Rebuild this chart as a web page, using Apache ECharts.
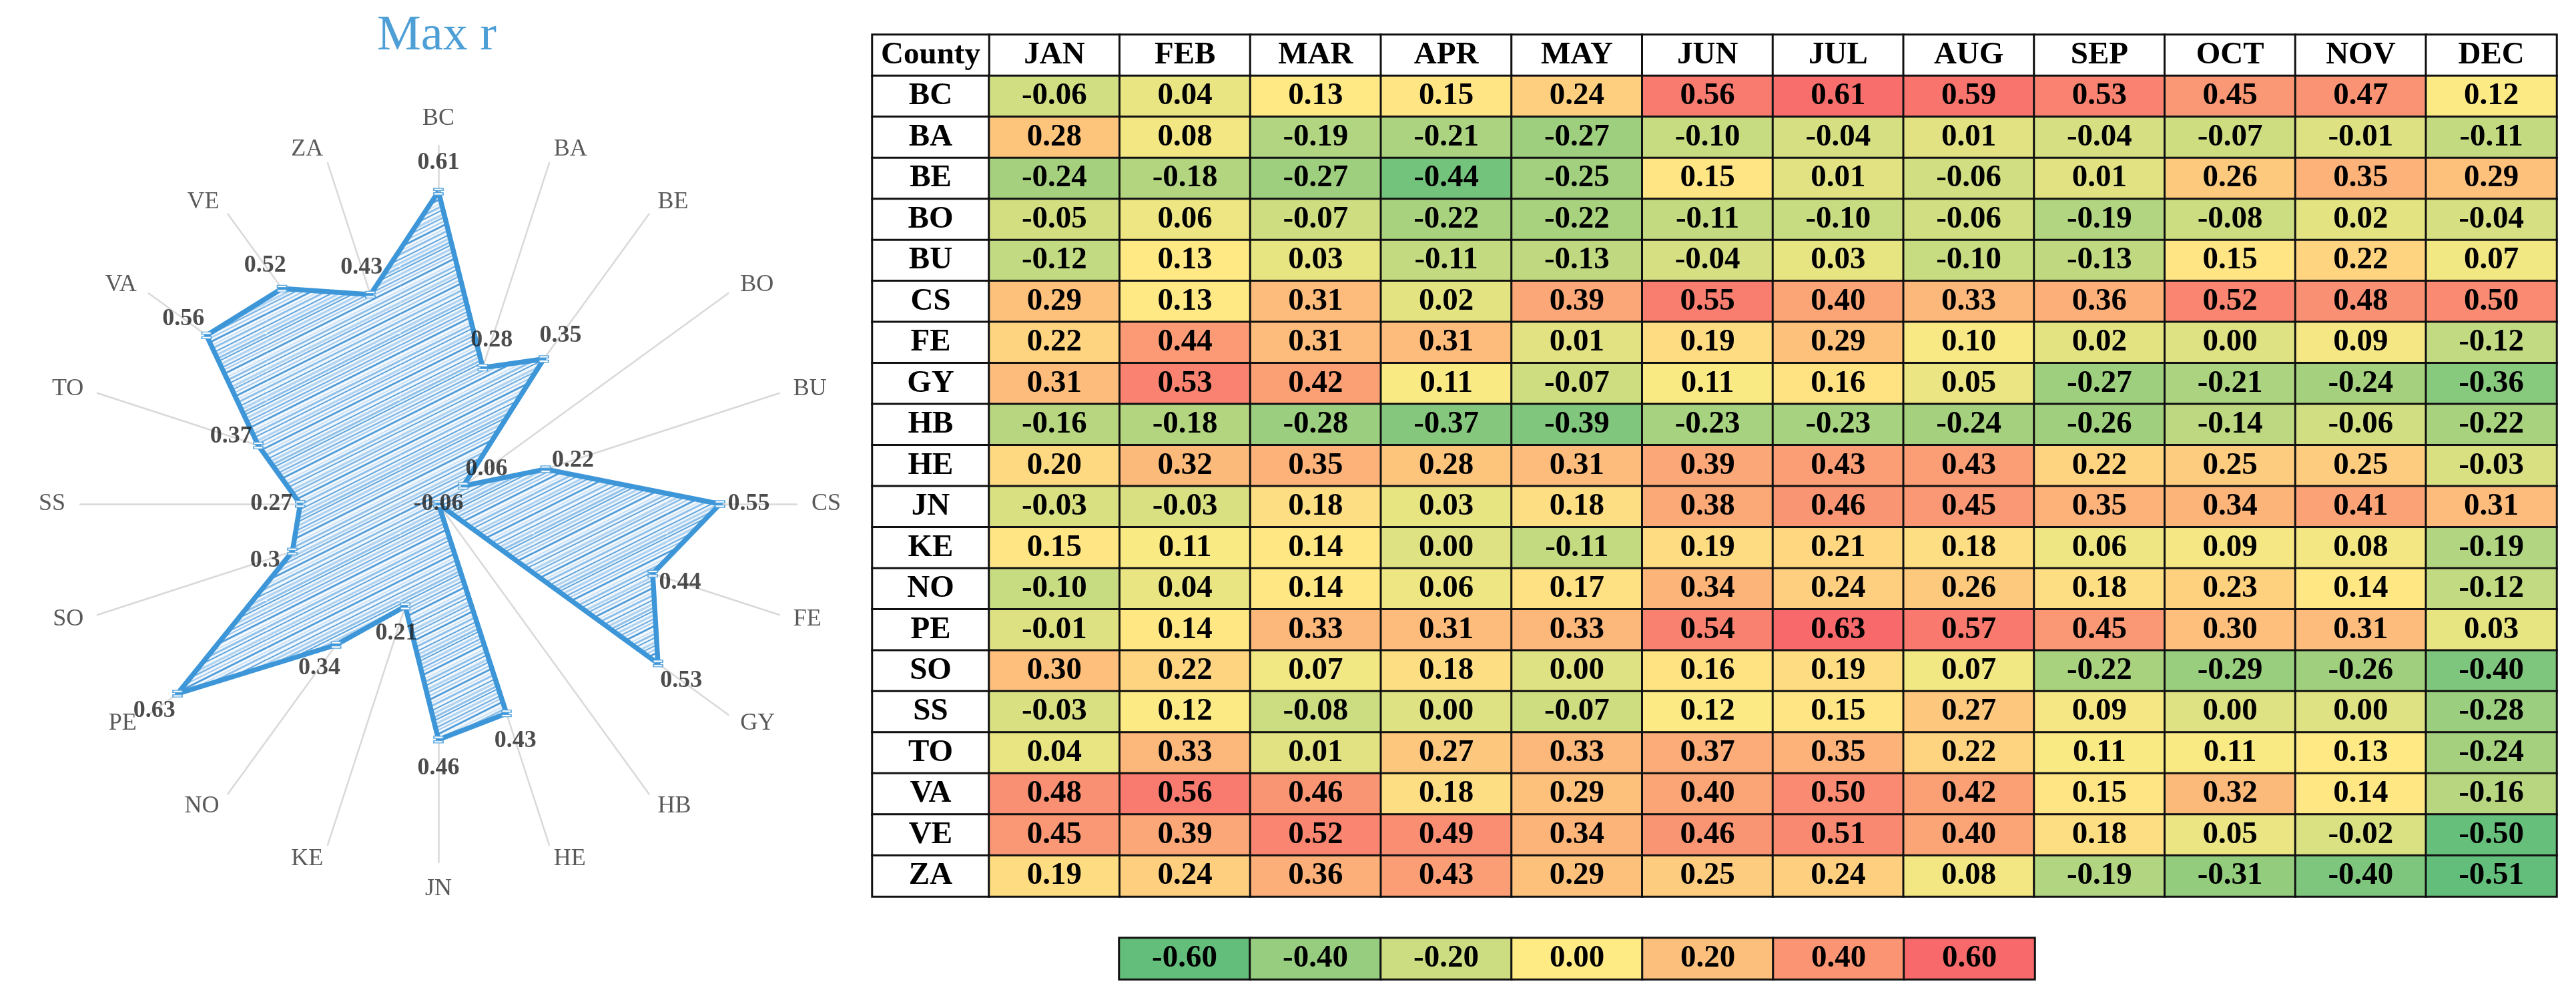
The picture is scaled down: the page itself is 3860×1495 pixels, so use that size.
<!DOCTYPE html>
<html>
<head>
<meta charset="utf-8">
<script src="https://cdn.jsdelivr.net/npm/echarts@6/dist/echarts.min.js"></script>
<style>
html,body{margin:0;padding:0;background:#fff;}
#main{width:3860px;height:1495px;}
</style>
</head>
<body>
<div id="main"></div>
<script>
var counties = ['BC','BA','BE','BO','BU','CS','FE','GY','HB','HE','JN','KE','NO','PE','SO','SS','TO','VA','VE','ZA'];
var months = ['JAN','FEB','MAR','APR','MAY','JUN','JUL','AUG','SEP','OCT','NOV','DEC'];

// r per county (same order as counties), one array per month
var jan = [-0.06,0.28,-0.24,-0.05,-0.12,0.29,0.22,0.31,-0.16,0.20,-0.03,0.15,-0.10,-0.01,0.30,-0.03,0.04,0.48,0.45,0.19];
var feb = [0.04,0.08,-0.18,0.06,0.13,0.13,0.44,0.53,-0.18,0.32,-0.03,0.11,0.04,0.14,0.22,0.12,0.33,0.56,0.39,0.24];
var mar = [0.13,-0.19,-0.27,-0.07,0.03,0.31,0.31,0.42,-0.28,0.35,0.18,0.14,0.14,0.33,0.07,-0.08,0.01,0.46,0.52,0.36];
var apr = [0.15,-0.21,-0.44,-0.22,-0.11,0.02,0.31,0.11,-0.37,0.28,0.03,0.00,0.06,0.31,0.18,0.00,0.27,0.18,0.49,0.43];
var may = [0.24,-0.27,-0.25,-0.22,-0.13,0.39,0.01,-0.07,-0.39,0.31,0.18,-0.11,0.17,0.33,0.00,-0.07,0.33,0.29,0.34,0.29];
var jun = [0.56,-0.10,0.15,-0.11,-0.04,0.55,0.19,0.11,-0.23,0.39,0.38,0.19,0.34,0.54,0.16,0.12,0.37,0.40,0.46,0.25];
var jul = [0.61,-0.04,0.01,-0.10,0.03,0.40,0.29,0.16,-0.23,0.43,0.46,0.21,0.24,0.63,0.19,0.15,0.35,0.50,0.51,0.24];
var aug = [0.59,0.01,-0.06,-0.06,-0.10,0.33,0.10,0.05,-0.24,0.43,0.45,0.18,0.26,0.57,0.07,0.27,0.22,0.42,0.40,0.08];
var sep = [0.53,-0.04,0.01,-0.19,-0.13,0.36,0.02,-0.27,-0.26,0.22,0.35,0.06,0.18,0.45,-0.22,0.09,0.11,0.15,0.18,-0.19];
var oct = [0.45,-0.07,0.26,-0.08,0.15,0.52,0.00,-0.21,-0.14,0.25,0.34,0.09,0.23,0.30,-0.29,0.00,0.11,0.32,0.05,-0.31];
var nov = [0.47,-0.01,0.35,0.02,0.22,0.48,0.09,-0.24,-0.06,0.25,0.41,0.08,0.14,0.31,-0.26,0.00,0.13,0.14,-0.02,-0.40];
var dec = [0.12,-0.11,0.29,-0.04,0.07,0.50,-0.12,-0.36,-0.22,-0.03,0.31,-0.19,-0.12,0.03,-0.40,-0.28,-0.24,-0.16,-0.50,-0.51];

// radar: max r per county
var maxR = [0.61,0.28,0.35,0.06,0.22,0.55,0.44,0.53,-0.06,0.43,0.46,0.21,0.34,0.63,0.3,0.27,0.37,0.56,0.52,0.43];
var legendVals = [-0.6,-0.4,-0.2,0,0.2,0.4,0.6];

var green = '#63BE7B', yellow = '#FFEB84', red = '#F8696B';
var lineBlue = '#3D96D8';
var serif = 'Liberation Serif';

var cols = [jan,feb,mar,apr,may,jun,jul,aug,sep,oct,nov,dec];
var rows = ['County'].concat(counties);

var cellData = [];
var all = [];
for (var i = 0; i < cols.length; i++) {
  for (var j = 0; j < counties.length; j++) {
    cellData.push([i, j + 1, cols[i][j]]);
    all.push(cols[i][j]);
  }
}
all.sort(function(a, b){ return a - b; });
var lo = all[0], hi = all[all.length - 1];
var mid = (all[all.length / 2 - 1] + all[all.length / 2]) / 2;

function clamp01(t){ return Math.min(1, Math.max(0, t)); }

// excel style 3 colour scale: lowest green, median yellow, highest red
var stops = [];
for (var k = 0; k <= 60; k++) {
  var v = lo + (hi - lo) * k / 60;
  stops.push(v < mid
    ? echarts.color.lerp(clamp01((v - lo) / (mid - lo)), [green, yellow])
    : echarts.color.lerp(clamp01((v - mid) / (hi - mid)), [yellow, red]));
}

var hdrData = months.map(function(m, i){ return [i, 0, 0]; });
var countyData = rows.map(function(r, j){ return [0, j, 0]; });
var legendData = legendVals.map(function(v, i){ return [i, 0, v]; });

// radar goes counter clockwise, so feed it BC then the rest reversed
var order = [0];
for (var n = counties.length - 1; n > 0; n--) order.push(n);
var radarVals = order.map(function(i){ return Math.max(maxR[i], 0); });

var labelData = maxR.map(function(v, i){
  var a = i * 2 * Math.PI / counties.length;
  var d = v > 0 ? 43 : 0;
  return {value: [Math.max(v, 0), counties[i]], label: {offset: [d * Math.sin(a), -d * Math.cos(a)]}};
});

// sketchy fill like excel's hand drawn style
function hatch(){
  var c = document.createElement('canvas');
  c.width = 200; c.height = 100;
  var g = c.getContext('2d');
  g.fillStyle = '#f3f8fd';
  g.fillRect(0, 0, 200, 100);
  var off = [0, 5, 11, 17, 22, 28, 35, 40, 46, 53, 58, 64, 70, 76, 81, 88, 94];
  var cl = ['#8fc0e9','#5ea4dc','#b3d4f1','#7ab3e4','#a0c8ec','#4f9bd8','#c6def4'];
  var w = [3, 2, 3.4, 2.4, 2, 2.8, 1.6];
  for (var k = 0; k < off.length; k++) {
    g.strokeStyle = cl[k % cl.length];
    g.lineWidth = w[k % w.length];
    for (var s = 0; s < 2; s++) {
      g.beginPath();
      g.moveTo(0, off[k] + s * 100);
      g.lineTo(200, off[k] + s * 100 - 100);
      g.stroke();
    }
  }
  return c;
}

var cellBorder = {borderColor: '#111', borderWidth: 3};
var cellFont = {fontFamily: serif, fontWeight: 'bold', fontSize: 47, color: '#000'};

var myChart = echarts.init(document.getElementById('main'));
var option = {
  animation: false,
  backgroundColor: '#fff',
  title: {
    text: 'Max r', left: 565, top: 18, padding: 0,
    textStyle: {fontFamily: serif, fontSize: 74, fontWeight: 'normal', color: '#4d9fd6'}
  },
  grid: [
    {left: 1482, top: 52, width: 2349, height: 1291},
    {left: 1307, top: 52, width: 175, height: 1291},
    {left: 1677, top: 1405, width: 1372, height: 62}
  ],
  xAxis: [
    {type: 'category', gridIndex: 0, data: months, show: false},
    {type: 'category', gridIndex: 1, data: ['County'], show: false},
    {type: 'category', gridIndex: 2, data: legendVals, show: false}
  ],
  yAxis: [
    {type: 'category', gridIndex: 0, data: rows, inverse: true, show: false},
    {type: 'category', gridIndex: 1, data: rows, inverse: true, show: false},
    {type: 'category', gridIndex: 2, data: [''], show: false}
  ],
  visualMap: [
    {type: 'continuous', show: false, seriesIndex: [0, 1], dimension: 2, min: 0, max: 1, inRange: {color: ['#ffffff', '#ffffff']}},
    {type: 'continuous', show: false, seriesIndex: 2, dimension: 2, min: lo, max: hi, inRange: {color: stops}},
    {type: 'continuous', show: false, seriesIndex: 3, dimension: 2, min: -0.6, max: 0.6, inRange: {color: [green, yellow, red]}}
  ],
  radar: {
    center: [657, 755],
    radius: 537,
    startAngle: 90,
    indicator: order.map(function(i){ return {name: counties[i], min: 0, max: 0.7}; }),
    axisNameGap: 22,
    axisName: {color: '#595959', fontSize: 36, fontFamily: serif},
    axisLine: {lineStyle: {color: '#d9d9d9', width: 2.5}},
    axisTick: {show: false},
    axisLabel: {show: false},
    splitLine: {show: false},
    splitArea: {show: false}
  },
  polar: {center: [657, 755], radius: 537},
  angleAxis: {type: 'category', data: counties, startAngle: 90, clockwise: true, boundaryGap: false, show: false},
  radiusAxis: {min: 0, max: 0.7, show: false},
  series: [
    {
      type: 'heatmap', xAxisIndex: 0, yAxisIndex: 0, data: hdrData,
      itemStyle: cellBorder, emphasis: {disabled: true},
      label: Object.assign({show: true, formatter: function(p){ return months[p.value[0]]; }}, cellFont)
    },
    {
      type: 'heatmap', xAxisIndex: 1, yAxisIndex: 1, data: countyData,
      itemStyle: cellBorder, emphasis: {disabled: true},
      label: Object.assign({show: true, formatter: function(p){ return rows[p.value[1]]; }}, cellFont)
    },
    {
      type: 'heatmap', xAxisIndex: 0, yAxisIndex: 0, data: cellData,
      itemStyle: cellBorder, emphasis: {disabled: true},
      label: Object.assign({show: true, formatter: function(p){ return p.value[2].toFixed(2); }}, cellFont)
    },
    {
      type: 'heatmap', xAxisIndex: 2, yAxisIndex: 2, data: legendData,
      itemStyle: cellBorder, emphasis: {disabled: true},
      label: Object.assign({show: true, formatter: function(p){ return p.value[2].toFixed(2); }}, cellFont)
    },
    {
      // hatched area only
      type: 'radar', z: 2, symbol: 'none',
      data: [{value: radarVals, name: 'Max r'}],
      lineStyle: {width: 0, opacity: 0},
      areaStyle: {color: {image: hatch(), repeat: 'repeat'}, opacity: 1},
      emphasis: {disabled: true}
    },
    {
      // outline on top of the fill
      type: 'radar', z: 3,
      symbol: 'path://M0,0L12,0L12,3L0,3Z M0,6L12,6L12,9L0,9Z',
      symbolSize: [14, 10],
      data: [{value: radarVals, name: 'Max r'}],
      lineStyle: {color: lineBlue, width: 7.5},
      itemStyle: {color: '#fff', borderColor: '#5aa6de', borderWidth: 1.5},
      label: {show: false},
      emphasis: {disabled: true}
    },
    {
      type: 'scatter', coordinateSystem: 'polar', z: 5, silent: true,
      symbolSize: 1,
      itemStyle: {color: 'rgba(0,0,0,0)'},
      data: labelData,
      label: {
        show: true, position: 'inside',
        formatter: function(p){ return String(maxR[p.dataIndex]); },
        fontFamily: serif, fontWeight: 'bold', fontSize: 36, color: '#1f1f1f'
      }
    }
  ]
};
myChart.setOption(option);
</script>
</body>
</html>
